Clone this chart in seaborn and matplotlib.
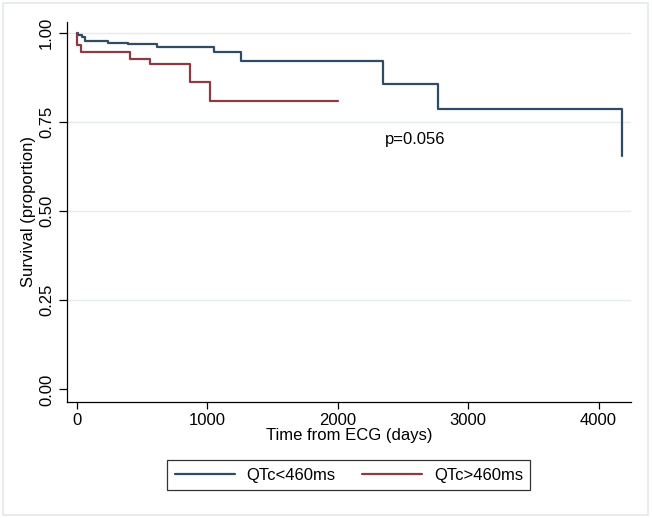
import pandas as pd
import seaborn as sns
import matplotlib.pyplot as plt
from matplotlib.patches import Rectangle

## Kaplan-Meier style survival curves by QTc group

# Step times (days) and survival proportions
time_short = [0, 10, 38, 61, 235, 393, 612, 1050, 1255, 2345, 2765, 4180, 4180]
surv_short = [1.000, 0.995, 0.988, 0.977, 0.972, 0.968, 0.959, 0.945, 0.922, 0.857, 0.786, 0.786, 0.654]

time_long = [0, 3, 30, 410, 560, 870, 1020, 2000]
surv_long = [1.000, 0.966, 0.946, 0.927, 0.912, 0.862, 0.808, 0.808]

groups = ["QTc<460ms", "QTc>460ms"]
colors = ["#2f4b66", "#8e3a44"]

x_ticks = [0, 1000, 2000, 3000, 4000]
y_ticks = [0.00, 0.25, 0.50, 0.75, 1.00]
p_text = "p=0.056"

# Long frame for seaborn
df = pd.concat([
    pd.DataFrame({"time": time_short, "surv": surv_short, "group": groups[0]}),
    pd.DataFrame({"time": time_long, "surv": surv_long, "group": groups[1]}),
], ignore_index=True)

sns.set_style("white")
plt.rcParams["font.family"] = ["Liberation Sans", "DejaVu Sans"]
plt.rcParams["font.size"] = 12
plt.rcParams["text.color"] = "black"
plt.rcParams["axes.labelcolor"] = "black"

fig = plt.figure(figsize=(6.52, 5.18), dpi=100)
ax = fig.add_axes([0.1023, 0.2249, 0.9683 - 0.1023, 0.958 - 0.2249])

sns.lineplot(data=df, x="time", y="surv", hue="group", palette=colors,
             estimator=None, sort=False, drawstyle="steps-post",
             linewidth=1.6, ax=ax, legend=False)

ax.set_xlim(-79, 4251)
ax.set_ylim(-0.034, 1.031)
ax.set_xticks(x_ticks)
ax.set_yticks(y_ticks)
ax.set_yticklabels([f"{v:.2f}" for v in y_ticks])
ax.tick_params(axis="both", direction="out", length=5, width=0.9,
               bottom=True, left=True,
               color="black", labelcolor="black", labelsize=12, pad=3)
ax.tick_params(axis="y", labelrotation=90, length=6)
plt.setp(ax.get_yticklabels(), va="center")

ax.set_xlabel("Time from ECG (days)", fontsize=12, labelpad=0, color="black")
ax.set_ylabel("Survival (proportion)", fontsize=12, labelpad=2, color="black")

for side in ["top", "right"]:
    ax.spines[side].set_visible(False)
for side in ["left", "bottom"]:
    ax.spines[side].set_color("black")
    ax.spines[side].set_linewidth(0.9)

ax.yaxis.grid(True, color="#e4ecee", linewidth=1.0)
ax.yaxis.get_gridlines()[0].set_visible(False)
ax.set_axisbelow(True)

ax.text(2362, 0.70, p_text, fontsize=12, ha="left", va="center", color="black")

handles = [plt.Line2D([], [], color=c, lw=1.6) for c in colors]
leg = fig.legend(handles, groups, loc="center", bbox_to_anchor=(0.535, 0.083),
                 ncol=2, frameon=True, fancybox=False, fontsize=12,
                 handlelength=3.6, handletextpad=0.7, columnspacing=1.6,
                 borderpad=0.45, borderaxespad=0, labelcolor="black")
leg.get_frame().set_edgecolor("black")
leg.get_frame().set_linewidth(0.9)

# light outer frame like the exported graph
fig.patches.append(Rectangle((0.004, 0.006), 0.99, 0.988, transform=fig.transFigure,
                             fill=False, edgecolor="#e3eaec", linewidth=1.2))

fig.savefig("out.png", dpi=100)
